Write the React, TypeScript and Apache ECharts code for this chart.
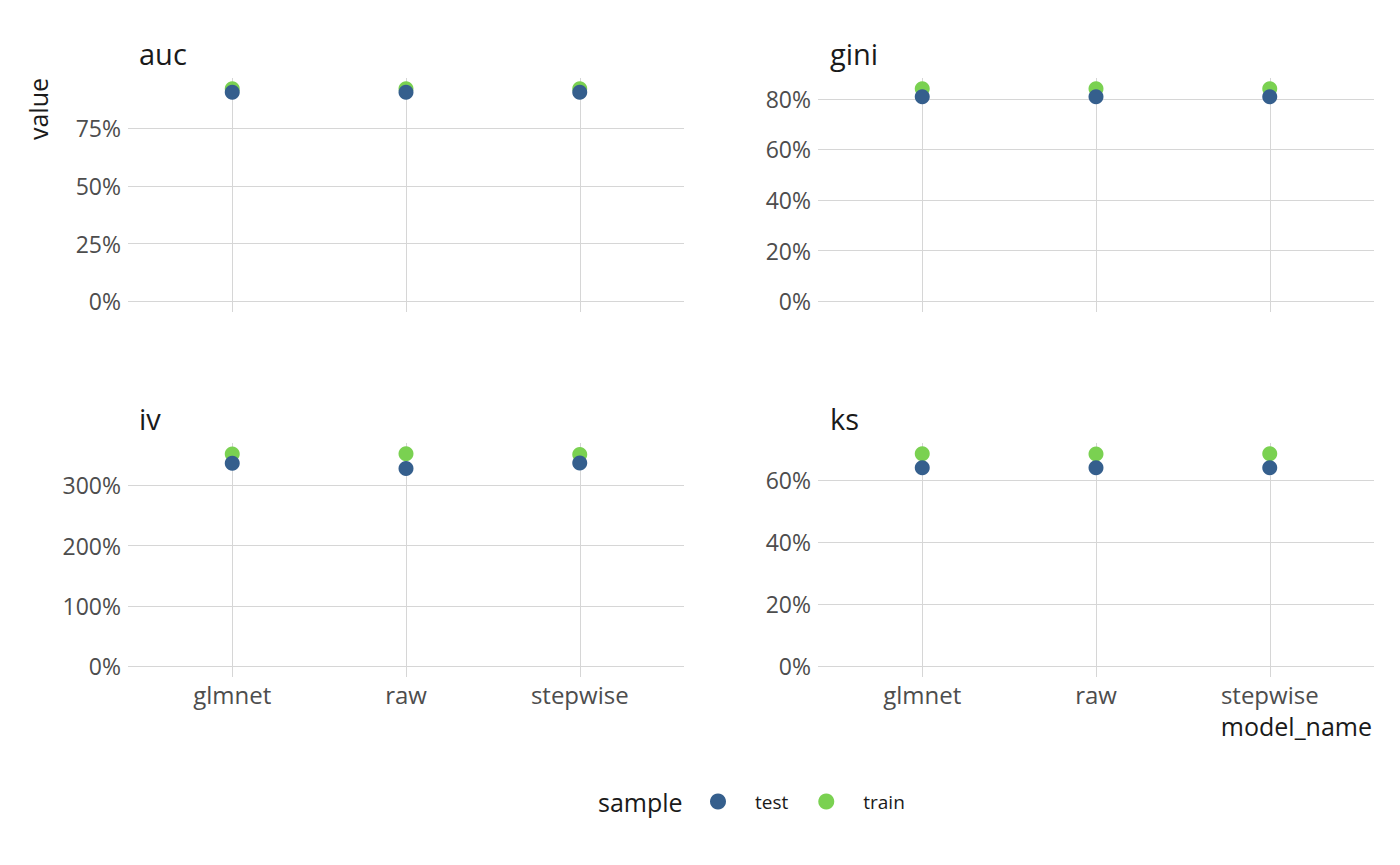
import React, { useEffect, useRef } from "react";
import * as echarts from "echarts";

const models = ["glmnet", "raw", "stepwise"];
const panels = ["auc", "gini", "iv", "ks"];
const aucTest = [90.4, 90.4, 90.4];
const aucTrain = [92.0, 92.0, 92.0];
const giniTest = [80.8, 80.8, 80.8];
const giniTrain = [84.0, 84.0, 84.0];
const ivTest = [336.5, 328.0, 337.0];
const ivTrain = [352.0, 352.5, 351.0];
const ksTest = [63.9, 63.9, 63.9];
const ksTrain = [68.4, 68.3, 68.4];
const aucTicks = [0, 25, 50, 75];
const giniTicks = [0, 20, 40, 60, 80];
const ivTicks = [0, 100, 200, 300];
const ksTicks = [0, 20, 40, 60];

const FONT = "Open Sans";
const TEST_COLOR = "#355f8d";
const TRAIN_COLOR = "#7ad151";
const GRID_COLOR = "#d6d6d6";

export default function App() {
  const ref = useRef<HTMLDivElement>(null);
  useEffect(() => {
    document.body.style.margin = "0";
    const chart = echarts.init(ref.current!, null, { renderer: "svg" });
    const data = [
      { test: aucTest, train: aucTrain, ticks: aucTicks },
      { test: giniTest, train: giniTrain, ticks: giniTicks },
      { test: ivTest, train: ivTrain, ticks: ivTicks },
      { test: ksTest, train: ksTrain, ticks: ksTicks },
    ];
    const gridPos = [
      { left: 128, top: 78 },
      { left: 818, top: 78 },
      { left: 128, top: 443 },
      { left: 818, top: 443 },
    ];
    const grids = gridPos.map((p) => ({ left: p.left, top: p.top, width: 556, height: 234, containLabel: false }));
    const xAxes = data.map((_, i) => ({
      type: "value",
      gridIndex: i,
      min: 0.4,
      max: 3.6,
      axisLine: { show: false },
      axisTick: { show: false, customValues: [1, 2, 3] },
      splitLine: { show: false },
      axisLabel: {
        show: i >= 2,
        customValues: [1, 2, 3],
        formatter: (v: number) => models[Math.round(v) - 1] ?? "",
        color: "#4d4d4d",
        fontFamily: FONT,
        fontSize: 24,
        margin: 5,
      },
    }));
    const yAxes = data.map((d, i) => {
      const hi = Math.max(...d.test, ...d.train);
      const lo = 0;
      const ex = (hi - lo) * 0.05;
      return {
        type: "value",
        gridIndex: i,
        min: lo - ex,
        max: hi + ex,
        axisLine: { show: false },
        axisTick: { show: false, customValues: d.ticks },
        splitLine: { show: false },
        axisLabel: {
          customValues: d.ticks,
          formatter: (v: number) => `${Math.round(v)}%`,
          color: "#4d4d4d",
          fontFamily: FONT,
          fontSize: 23,
          margin: 7,
        },
      };
    });
    const series: any[] = [];
    data.forEach((d, i) => {
      series.push({
        name: "train",
        type: "scatter",
        xAxisIndex: i,
        yAxisIndex: i,
        symbolSize: 15,
        itemStyle: { color: TRAIN_COLOR, opacity: 1 },
        data: d.train.map((v, j) => [j + 1, v]),
        z: 3,
        markLine: {
          silent: true,
          symbol: "none",
          z: 1,
          label: { show: false },
          lineStyle: { color: GRID_COLOR, width: 1, type: "solid" },
          emphasis: { disabled: true },
          data: [
            ...d.ticks.map((t) => ({ yAxis: t })),
            ...models.map((_, j) => ({ xAxis: j + 1 })),
          ],
        },
      });
      series.push({
        name: "test",
        type: "scatter",
        xAxisIndex: i,
        yAxisIndex: i,
        symbolSize: 15,
        itemStyle: { color: TEST_COLOR, opacity: 1 },
        data: d.test.map((v, j) => [j + 1, v]),
        z: 4,
      });
    });
    const titlePos = [
      [139, 53],
      [830, 53],
      [139, 418],
      [830, 418],
    ];
    const graphics: any[] = panels.map((p, i) => ({
      type: "text",
      x: titlePos[i][0],
      y: titlePos[i][1],
      style: { text: p, fontFamily: FONT, fontSize: 29, fill: "#1a1a1a", verticalAlign: "middle", align: "left" },
    }));
    graphics.push({
      type: "text",
      x: 38,
      y: 78,
      rotation: Math.PI / 2,
      style: { text: "value", fontFamily: FONT, fontSize: 25, fill: "#1a1a1a", verticalAlign: "middle", align: "right" },
    });
    graphics.push({
      type: "text",
      x: 1372,
      y: 726,
      style: { text: "model_name", fontFamily: FONT, fontSize: 25, fill: "#1a1a1a", verticalAlign: "middle", align: "right" },
    });
    graphics.push({
      type: "text",
      x: 598,
      y: 802,
      style: { text: "sample", fontFamily: FONT, fontSize: 25, fill: "#1a1a1a", verticalAlign: "middle", align: "left" },
    });
    chart.setOption({
      animation: false,
      backgroundColor: "#ffffff",
      grid: grids,
      xAxis: xAxes,
      yAxis: yAxes,
      series,
      legend: {
        left: 705,
        top: 787,
        data: [
          { name: "test", itemStyle: { color: TEST_COLOR } },
          { name: "train", itemStyle: { color: TRAIN_COLOR } },
        ],
        icon: "circle",
        itemWidth: 16,
        itemHeight: 16,
        itemGap: 30,
        selectedMode: false,
        textStyle: { fontFamily: FONT, fontSize: 19, color: "#1a1a1a", padding: [0, 0, 0, 24] },
      },
      graphic: graphics,
    });
    return () => chart.dispose();
  }, []);
  return <div ref={ref} style={{ width: 1400, height: 865 }} />;
}
